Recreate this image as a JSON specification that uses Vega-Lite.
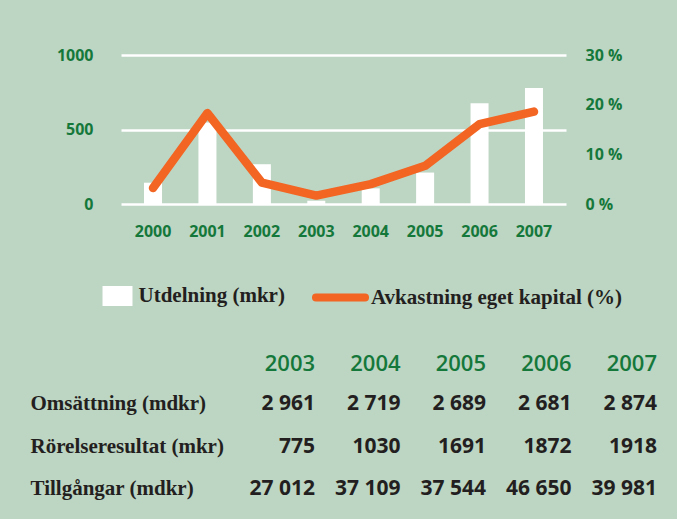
{
  "$schema": "https://vega.github.io/schema/vega-lite/v6.json",
  "background": "#bdd5c3",
  "padding": {"left": 30, "top": 47, "right": 20, "bottom": 12},
  "config": {"view": {"stroke": null}, "font": "Open Sans"},
  "spacing": 113,
  "vconcat": [
    {
      "width": 445,
      "height": 149,
      "data": {"values": [
        {"year": "2000", "utdelning": 143, "avkastning": 3.2},
        {"year": "2001", "utdelning": 547, "avkastning": 18.3},
        {"year": "2002", "utdelning": 267, "avkastning": 4.3},
        {"year": "2003", "utdelning": 22, "avkastning": 1.7},
        {"year": "2004", "utdelning": 105, "avkastning": 4.0},
        {"year": "2005", "utdelning": 211, "avkastning": 7.7},
        {"year": "2006", "utdelning": 677, "avkastning": 16.1},
        {"year": "2007", "utdelning": 778, "avkastning": 18.6}
      ]},
      "layer": [
        {
          "mark": {"type": "bar"},
          "encoding": {
            "x": {"field": "year", "type": "ordinal",
              "scale": {"paddingInner": 0.669, "paddingOuter": 0.423},
              "axis": {"title": null, "domain": false, "ticks": false, "labelAngle": 0, "labelPadding": 19,
                "labelFont": "Open Sans", "labelFontWeight": "bold", "labelFontSize": 16, "labelColor": "#15783b"}},
            "y": {"field": "utdelning", "type": "quantitative",
              "scale": {"domain": [0, 1000]},
              "axis": {"title": null, "values": [0, 500, 1000], "format": "d", "grid": true, "gridColor": "#ffffff", "gridWidth": 2.5, "gridOpacity": 1,
                "domain": false, "ticks": false, "labelPadding": 28,
                "labelFont": "Open Sans", "labelFontWeight": "bold", "labelFontSize": 16, "labelColor": "#15783b"}},
            "fill": {"datum": "Utdelning (mkr)", "type": "nominal",
              "scale": {"range": ["#ffffff"]},
              "legend": {"orient": "none", "legendX": -18.5, "legendY": 226, "title": null,
                "symbolType": "M-1,-0.667H1V0.667H-1Z", "symbolSize": 900, "symbolStrokeWidth": 0, "symbolOpacity": 1,
                "labelFont": "Liberation Serif", "labelFontWeight": "bold", "labelFontSize": 21, "labelColor": "#231f20", "labelOffset": 6, "labelLimit": 400}}
          }
        },
        {
          "mark": {"type": "line", "strokeWidth": 8.5, "strokeCap": "round", "strokeJoin": "round"},
          "encoding": {
            "x": {"field": "year", "type": "ordinal"},
            "y": {"field": "avkastning", "type": "quantitative",
              "scale": {"domain": [0, 30]},
              "axis": {"orient": "right", "title": null, "values": [0, 10, 20, 30], "labelExpr": "datum.value + ' %'",
                "grid": false, "domain": false, "ticks": false, "labelPadding": 19,
                "labelFont": "Open Sans", "labelFontWeight": "bold", "labelFontSize": 16, "labelColor": "#15783b"}},
            "stroke": {"datum": "Avkastning eget kapital (%)", "type": "nominal",
              "scale": {"range": ["#f26522"]},
              "legend": {"orient": "none", "legendX": 191, "legendY": 214, "title": null,
                "symbolType": "stroke", "symbolSize": 2401, "symbolStrokeWidth": 8,
                "encode": {"symbols": {"update": {"strokeCap": {"value": "round"}}}},
                "labelFont": "Liberation Serif", "labelFontWeight": "bold", "labelFontSize": 21, "labelColor": "#231f20", "labelOffset": 2, "labelLimit": 400}}
          }
        }
      ],
      "resolve": {"scale": {"y": "independent"}}
    },
    {
      "width": 536,
      "height": 127.5,
      "data": {"values": [
        {"metric": "Omsättning (mdkr)", "year": "2003", "value": "2 961"},
        {"metric": "Omsättning (mdkr)", "year": "2004", "value": "2 719"},
        {"metric": "Omsättning (mdkr)", "year": "2005", "value": "2 689"},
        {"metric": "Omsättning (mdkr)", "year": "2006", "value": "2 681"},
        {"metric": "Omsättning (mdkr)", "year": "2007", "value": "2 874"},
        {"metric": "Rörelseresultat (mkr)", "year": "2003", "value": "775"},
        {"metric": "Rörelseresultat (mkr)", "year": "2004", "value": "1030"},
        {"metric": "Rörelseresultat (mkr)", "year": "2005", "value": "1691"},
        {"metric": "Rörelseresultat (mkr)", "year": "2006", "value": "1872"},
        {"metric": "Rörelseresultat (mkr)", "year": "2007", "value": "1918"},
        {"metric": "Tillgångar (mdkr)", "year": "2003", "value": "27 012"},
        {"metric": "Tillgångar (mdkr)", "year": "2004", "value": "37 109"},
        {"metric": "Tillgångar (mdkr)", "year": "2005", "value": "37 544"},
        {"metric": "Tillgångar (mdkr)", "year": "2006", "value": "46 650"},
        {"metric": "Tillgångar (mdkr)", "year": "2007", "value": "39 981"}
      ]},
      "mark": {"type": "text", "align": "right", "baseline": "middle", "font": "Open Sans", "fontWeight": "bold", "fontSize": 21, "color": "#231f20"},
      "encoding": {
        "x": {"field": "year", "type": "ordinal", "bandPosition": 1,
          "scale": {"type": "band", "paddingInner": 0, "paddingOuter": 0.635, "align": 1},
          "axis": {"orient": "top", "title": null, "domain": false, "ticks": false, "labelOffset": 42.75,
            "labelAlign": "right", "labelBaseline": "alphabetic", "labelPadding": 13, "labelAngle": 0,
            "labelFont": "Open Sans", "labelFontWeight": 600, "labelFontSize": 22, "labelColor": "#15783b"}},
        "y": {"field": "metric", "type": "nominal", "sort": null,
          "scale": {"type": "band", "paddingInner": 0, "paddingOuter": 0},
          "axis": {"title": null, "domain": false, "ticks": false, "labelAlign": "left", "labelPadding": 91, "labelLimit": 400,
            "labelFont": "Liberation Serif", "labelFontWeight": "bold", "labelFontSize": 21, "labelColor": "#231f20"}},
        "text": {"field": "value"}
      }
    }
  ]
}
